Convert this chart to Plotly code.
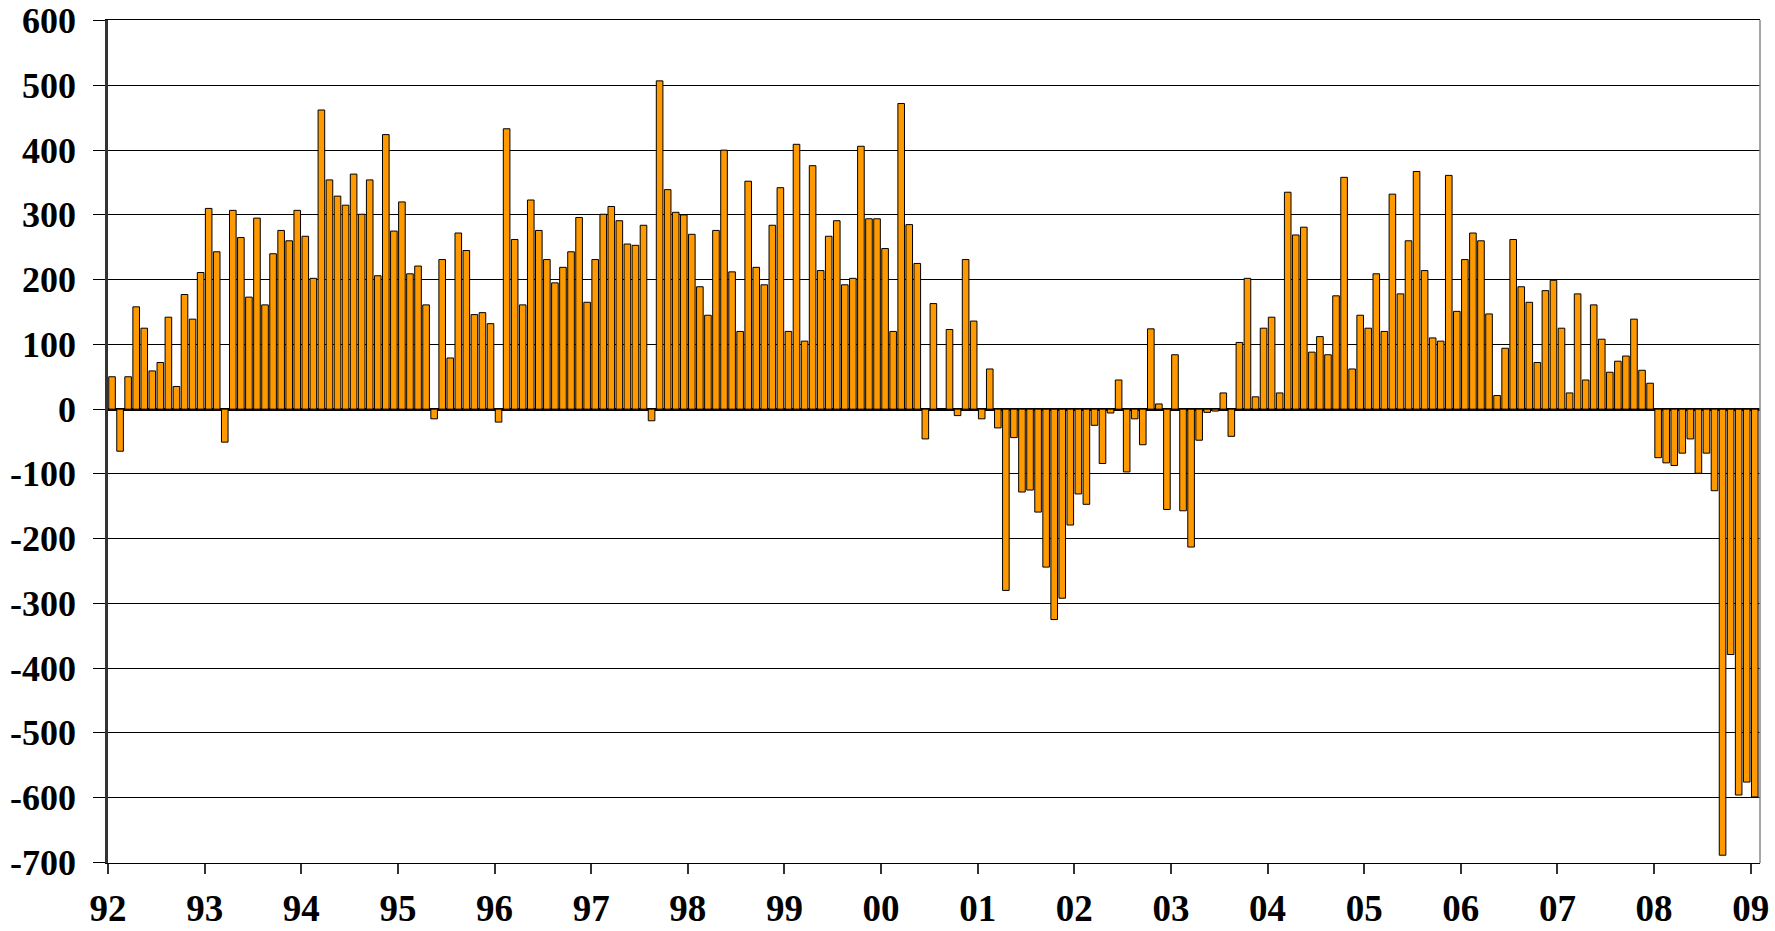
import plotly.graph_objects as go

year_labels = ["92", "93", "94", "95", "96", "97", "98", "99", "00", "01",
               "02", "03", "04", "05", "06", "07", "08", "09"]

v1992 = [50, -65, 50, 158, 125, 59, 72, 142, 35, 177, 139, 211]
v1993 = [310, 243, -51, 307, 265, 173, 295, 161, 240, 276, 260, 307]
v1994 = [267, 202, 462, 354, 329, 315, 363, 301, 354, 206, 424, 275]
v1995 = [320, 209, 221, 161, -15, 231, 79, 272, 245, 146, 149, 132]
v1996 = [-20, 433, 262, 161, 323, 276, 231, 195, 219, 243, 296, 165]
v1997 = [231, 301, 313, 291, 255, 253, 284, -18, 507, 339, 304, 300]
v1998 = [270, 189, 145, 276, 400, 212, 120, 352, 219, 192, 284, 342]
v1999 = [120, 409, 105, 376, 214, 267, 291, 192, 202, 406, 294, 294]
v2000 = [248, 120, 472, 285, 225, -46, 163, 0, 123, -10, 231, 136]
v2001 = [-15, 62, -29, -280, -44, -128, -125, -159, -244, -325, -292, -179]
v2002 = [-131, -147, -25, -84, -6, 45, -97, -15, -55, 124, 8, -155]
v2003 = [84, -157, -213, -48, -5, -3, 25, -42, 103, 202, 19, 125]
v2004 = [142, 25, 335, 269, 281, 88, 112, 84, 175, 358, 62, 145]
v2005 = [125, 209, 120, 332, 178, 260, 367, 214, 110, 105, 361, 151]
v2006 = [231, 272, 260, 147, 21, 94, 262, 189, 165, 72, 183, 199]
v2007 = [125, 25, 178, 45, 161, 108, 57, 74, 82, 139, 60, 40]
v2008 = [-75, -83, -87, -68, -46, -99, -68, -126, -689, -379, -596, -576]
v2009 = [-599]

y_ticks = [600, 500, 400, 300, 200, 100, 0, -100, -200, -300, -400, -500, -600, -700]

values = (v1992 + v1993 + v1994 + v1995 + v1996 + v1997 + v1998 + v1999 + v2000
          + v2001 + v2002 + v2003 + v2004 + v2005 + v2006 + v2007 + v2008 + v2009)

# month index -> bar centred within its month
x = [i + 0.5 for i in range(len(values))]
year_pos = [12 * k for k in range(len(year_labels))]

yfont = dict(family="Liberation Serif", size=36, color="black", weight="bold")
xfont = dict(family="Liberation Serif", size=37, color="black", weight="bold")

fig = go.Figure(go.Bar(
    x=x, y=values, width=0.82,
    marker=dict(color="#FF9900", line=dict(color="black", width=1)),
))

fig.update_layout(
    width=1775, height=931,
    margin=dict(l=108, r=15, t=20, b=68),
    plot_bgcolor="white", paper_bgcolor="white",
    showlegend=False,
    font=yfont,
)
fig.update_xaxes(
    range=[0, len(values) + 0.15],
    tickmode="array", tickvals=year_pos, ticktext=year_labels,
    ticks="outside", ticklen=10, tickwidth=2, tickcolor="#333",
    showgrid=False, zeroline=False,
    showline=True, linecolor="black", linewidth=1, mirror=True,
    tickfont=xfont,
    ticklabelstandoff=3,
    ticklabeloverflow="allow",
    automargin=False,
)
fig.update_yaxes(
    range=[-701, 601],
    tickmode="array", tickvals=y_ticks, ticktext=[str(v) for v in y_ticks],
    ticks="outside", ticklen=12, tickwidth=1, tickcolor="black",
    showgrid=True, gridcolor="black", gridwidth=1,
    zeroline=True, zerolinecolor="black", zerolinewidth=2.5,
    showline=True, linecolor="#333", linewidth=2.5,
    tickfont=yfont,
    ticklabelstandoff=10,
    ticklabeloverflow="allow",
    automargin=False,
)
# right border
fig.add_shape(type="line", xref="paper", yref="paper", x0=1, x1=1, y0=0, y1=1,
              line=dict(color="#888", width=1.5))

fig.write_html("out.html", config={"displayModeBar": False},
               post_script="document.body.style.margin='0';")
